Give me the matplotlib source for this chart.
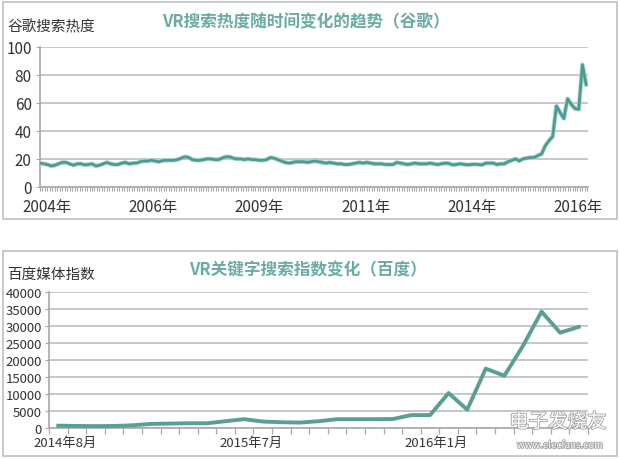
import matplotlib
matplotlib.use("Agg")
import matplotlib.pyplot as plt
import matplotlib.patheffects as pe
from matplotlib.patches import Rectangle
import numpy as np

plt.rcParams['font.family'] = ['Noto Sans CJK SC', 'DejaVu Sans']

# ---------------- data ----------------
google_title = "VR搜索热度随时间变化的趋势（谷歌）"
google_ylabel = "谷歌搜索热度"
google_xlabels = ["2004年", "2006年", "2009年", "2011年", "2014年", "2016年"]
google_yticks = [0, 20, 40, 60, 80, 100]
google_values = [
    17, 16.5, 16, 15, 15.5, 16.5, 17.5, 17.5, 16.5, 15.5,
    16.5, 16.5, 15.8, 16, 16.5, 15, 15.5, 16.5, 17.5, 16.5,
    16, 16, 17, 17.5, 16.5, 17, 17, 18, 18.5, 18.5,
    19, 18.5, 18, 18.8, 19, 19, 19, 19.5, 20.5, 21.5,
    21, 19.5, 19, 19, 19.5, 20, 20, 19.5, 19.5, 20.5,
    21.5, 21.5, 20.5, 20, 20, 19.5, 20, 19.5, 19.5, 19,
    19, 19.5, 21, 20.5, 19.5, 18.5, 17.5, 17, 17.5, 18,
    18, 18, 17.5, 18, 18.5, 18, 17.5, 17, 17.5, 17,
    16.5, 16.5, 16, 16, 16.5, 17, 17.5, 17, 17.5, 17,
    16.5, 16.5, 16.5, 16, 16, 16, 17.5, 17, 16.5, 16,
    16.5, 17, 16.5, 16.5, 16.5, 17, 16.5, 16, 16.5, 17,
    16.8, 15.8, 16, 16.5, 16.2, 15.8, 16, 16.2, 16, 15.8,
    17, 17, 17, 16, 16.5, 16.5, 18, 19, 20, 18.6,
    20, 20.5, 21, 21, 22.4, 23.5, 29.4, 33, 36, 57.6,
    53, 48.7, 62.8, 58.8, 55.8, 55.3, 87, 73,
]

baidu_title = "VR关键字搜索指数变化（百度）"
baidu_ylabel = "百度媒体指数"
baidu_xlabels = ["2014年8月", "2015年7月", "2016年1月"]
baidu_yticks = [0, 5000, 10000, 15000, 20000, 25000, 30000, 35000, 40000]
baidu_values = [
    700, 600, 550, 600, 800, 1200, 1300, 1400, 1400, 2000,
    2600, 1900, 1700, 1600, 2000, 2600, 2600, 2600, 2650, 3800,
    3800, 10300, 5400, 17500, 15400, 24200, 34300, 28100, 29800,
]

# ---------------- style ----------------
W, H = 620, 460
teal_line = "#4f9b91"
teal_halo = "#a9d8d1"
teal_title = "#6aaca3"
grid_c = "#bdbdbd"
spine_c = "#a8a8a8"
text_c = "#333333"

fig = plt.figure(figsize=(W / 100, H / 100), dpi=100)
fig.patch.set_facecolor("white")

def fx(px):
    return px / W

def fy(py):
    return 1 - py / H

# panel borders
for (x0, y0, x1, y1) in [(3, 3, 617, 220), (3, 252, 617, 457)]:
    fig.patches.append(Rectangle((fx(x0), fy(y1)), fx(x1 - x0), (y1 - y0) / H,
                                 transform=fig.transFigure, fill=False,
                                 edgecolor="#c9c9c9", linewidth=1.4))

# ---------------- top: Google ----------------
ax1 = fig.add_axes([fx(40), fy(188), fx(588 - 40), (188 - 47.5) / H])
n = len(google_values)
xg = np.arange(n)
ax1.plot(xg, google_values, color=teal_halo, lw=3.2, solid_joinstyle="round", zorder=3)
ax1.plot(xg, google_values, color=teal_line, lw=2.0, solid_joinstyle="round", zorder=4)
ax1.set_xlim(0, n - 0.5)
ax1.set_ylim(0, 100)
ax1.set_yticks(google_yticks)
ax1.set_yticklabels([str(v) for v in google_yticks], fontsize=11, color=text_c)
ax1.yaxis.grid(True, color=grid_c, lw=1.2)
ax1.set_axisbelow(True)
pos = np.linspace(1.9, 144.8, len(google_xlabels))
ax1.set_xticks(pos)
ax1.set_xticklabels(google_xlabels, fontsize=11, color=text_c)
ax1.tick_params(axis="x", length=0, pad=8)
ax1.set_xticks(np.arange(0, n - 0.5, 2 / 3), minor=True)
ax1.tick_params(axis="x", which="minor", length=3, color=spine_c, width=0.8)
ax1.tick_params(axis="y", length=3, color=spine_c, pad=3)
for s in ["top", "right"]:
    ax1.spines[s].set_visible(False)
for s in ["left", "bottom"]:
    ax1.spines[s].set_color(spine_c)
    ax1.spines[s].set_linewidth(1.2)
ax1.set_facecolor("none")

fig.text(fx(7), fy(27), google_ylabel, fontsize=10.5, color=text_c, va="center", ha="left")
fig.text(fx(306), fy(22), google_title, fontsize=12, color=teal_title,
         fontweight="bold", va="center", ha="center")

# ---------------- bottom: Baidu ----------------
ax2 = fig.add_axes([fx(49), fy(429), fx(588 - 49), (429 - 293.3) / H])
m = len(baidu_values)
xb = np.arange(m)
ax2.plot(xb, baidu_values, color="#5a9e95", lw=2.8, solid_joinstyle="round", zorder=4)
ax2.set_xlim(-0.5, m - 0.5)
ax2.set_ylim(0, 40000)
ax2.set_yticks(baidu_yticks)
ax2.set_yticklabels([str(v) for v in baidu_yticks], fontsize=9.5, color=text_c)
ax2.yaxis.grid(True, color=grid_c, lw=1.2)
ax2.set_axisbelow(True)
ax2.set_xticks(np.array([0, 10, 20]) + 0.35)
ax2.set_xticklabels(baidu_xlabels, fontsize=9.5, color=text_c)
ax2.tick_params(axis="x", length=0, pad=6)
ax2.set_xticks(np.arange(-0.5, m, 1.0), minor=True)
ax2.tick_params(axis="x", which="minor", length=4, color=spine_c, width=0.9)
ax2.tick_params(axis="y", length=3, color=spine_c, pad=2)
for s in ["top", "right"]:
    ax2.spines[s].set_visible(False)
for s in ["left", "bottom"]:
    ax2.spines[s].set_color(spine_c)
    ax2.spines[s].set_linewidth(1.2)
ax2.set_facecolor("none")

fig.text(fx(7), fy(275), baidu_ylabel, fontsize=10.5, color=text_c, va="center", ha="left")
fig.text(fx(308), fy(270), baidu_title, fontsize=12, color=teal_title,
         fontweight="bold", va="center", ha="center")

# watermark
wm = [pe.withStroke(linewidth=1.2, foreground="#a0a0a0")]
fig.text(fx(558), fy(423), "电子发烧友", fontsize=14, color="white",
         ha="center", va="center", path_effects=wm, zorder=10)
fig.text(fx(560), fy(446), "www.elecfans.com", fontsize=7, color="white",
         ha="center", va="center", path_effects=wm, zorder=10)

fig.savefig("out.png", dpi=100, facecolor="white")
